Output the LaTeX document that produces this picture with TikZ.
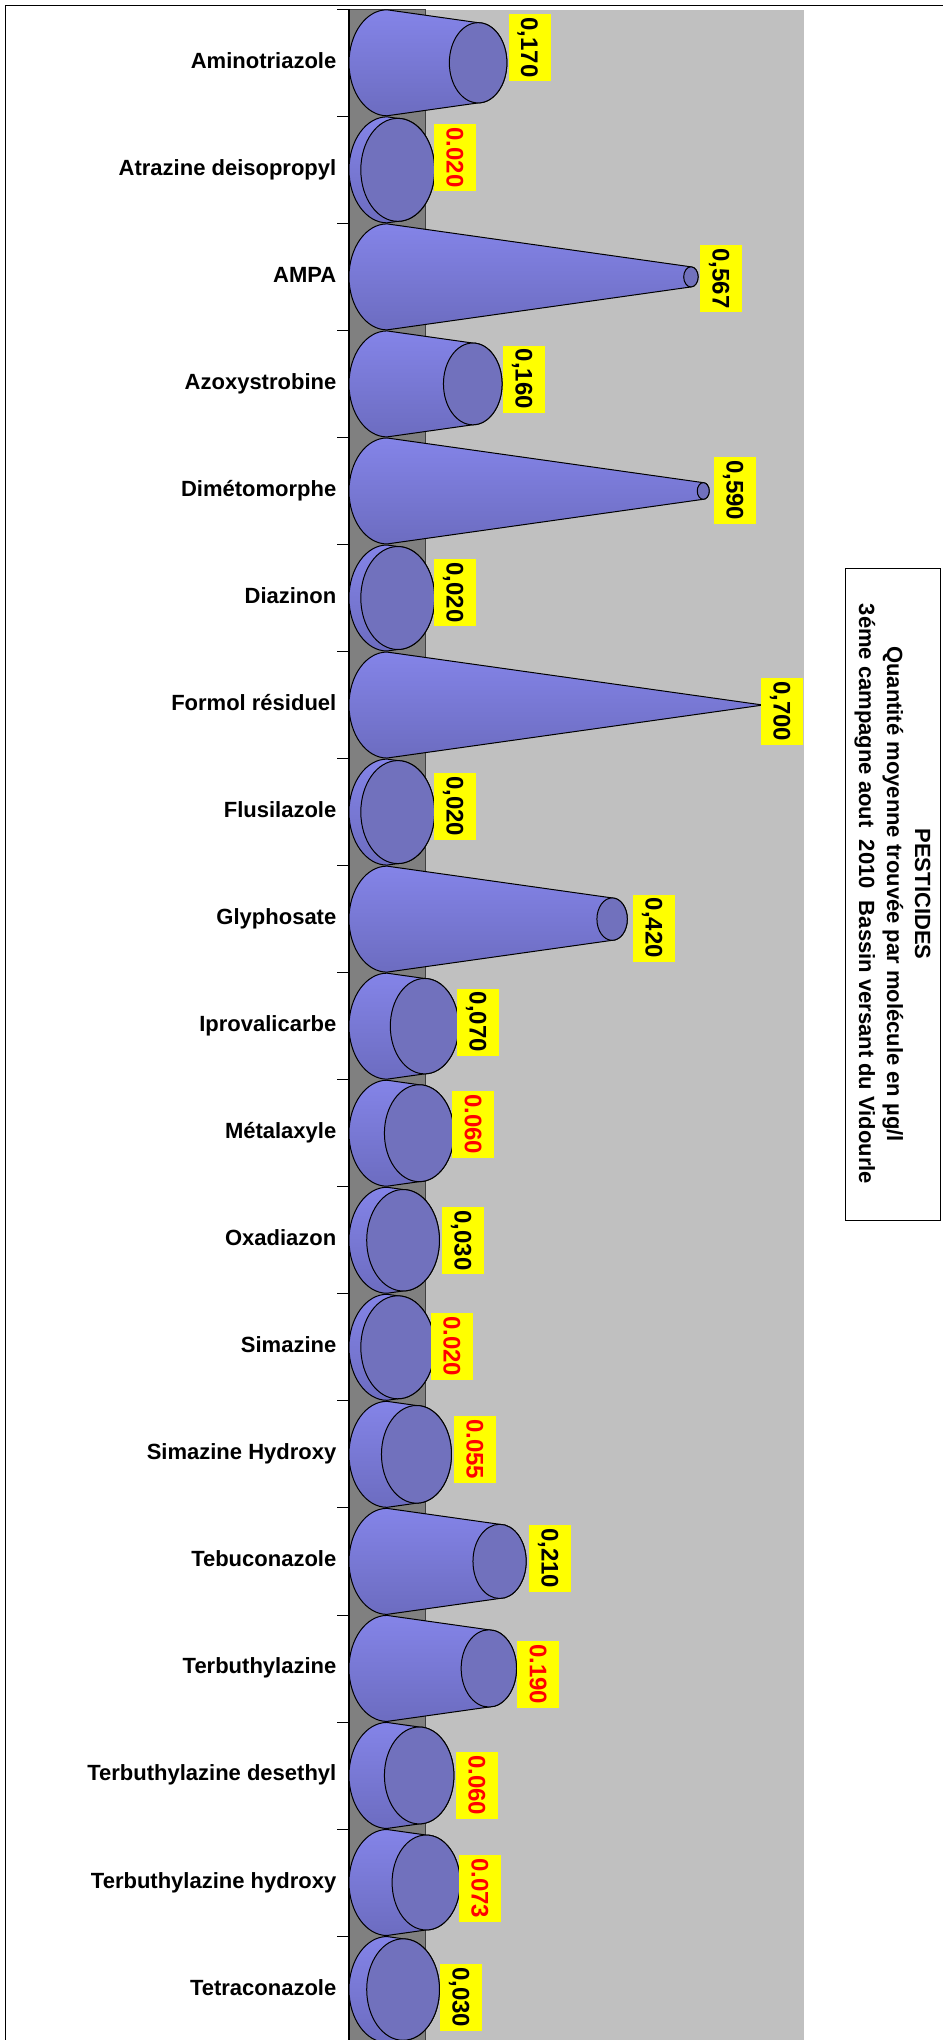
\documentclass[tikz,border=0pt]{standalone}
\usepackage{fontspec}
\setmainfont{Liberation Sans}
\usepackage{tikz}
\usetikzlibrary{positioning}
\usepackage{xcolor}
\definecolor{conelight}{RGB}{155,155,255}
\definecolor{conetop}{RGB}{132,132,232}
\definecolor{conedark}{RGB}{108,108,192}
\definecolor{capblue}{RGB}{113,113,189}
\definecolor{wallgray}{RGB}{192,192,192}
\definecolor{floorgray}{RGB}{128,128,128}
\definecolor{labyellow}{RGB}{255,255,0}

\begin{document}
\begin{tikzpicture}[x=1pt, y=-1pt,
    conebody/.style={draw=black, line width=1pt, top color=conetop, middle color=conelight, bottom color=conedark},
    capface/.style={draw=black, line width=1pt, fill=capblue},
    catlab/.style={anchor=base east, inner sep=0pt, font=\bfseries\fontsize{22}{24}\selectfont},
    vallab/.style={fill=labyellow, rotate=-90, inner sep=0pt, minimum width=67pt, minimum height=42pt,
      text height=17pt, text depth=0pt, font=\bfseries\fontsize{24}{24}\selectfont},
    titlebox/.style={draw=black, line width=0.8pt, rotate=-90, align=center, inner sep=0pt,
      minimum width=652pt, minimum height=95pt, font=\bfseries\fontsize{22}{28}\selectfont}]
  \useasboundingbox (0,0) rectangle (943,2040);
  \fill[white] (0,0) rectangle (943,2040);
  % Frame
  \draw[line width=1pt] (5.7,2040) -- (5.7,5.7) -- (943,5.7);
  % Back wall and floor
  \fill[wallgray] (425,10) rectangle (804,2040);
  \filldraw[fill=floorgray, draw=black!75, line width=0.6pt] (349,9.3) rectangle (425,2045);
  \draw[line width=1.3pt] (349,9.3) -- (349,2040);
  % Category ticks
  \foreach \i in {0,...,18}
    \draw[line width=0.8pt] (337,{9.3+107.04*\i}) -- (349,{9.3+107.04*\i});
  % Cones with value labels
  \foreach \i/\name/\val/\txt/\col/\lx/\ly in {
      0/Aminotriazole/0.170/{0,170}/black/529.5/47.5,
      1/Atrazine deisopropyl/0.020/{0.020}/red/455/157.5,
      2/AMPA/0.567/{0,567}/black/721/278.5,
      3/Azoxystrobine/0.160/{0,160}/black/524/379,
      4/Dimétomorphe/0.590/{0,590}/black/735/490.3,
      5/Diazinon/0.020/{0,020}/black/455/592.5,
      6/Formol résiduel/0.700/{0,700}/black/782/711.3,
      7/Flusilazole/0.020/{0,020}/black/455/806.3,
      8/Glyphosate/0.420/{0,420}/black/654/928,
      9/Iprovalicarbe/0.070/{0,070}/black/478/1022,
      10/Métalaxyle/0.060/{0.060}/red/473.3/1124.3,
      11/Oxadiazon/0.030/{0,030}/black/463/1240.5,
      12/Simazine/0.020/{0.020}/red/452/1346.3,
      13/Simazine Hydroxy/0.055/{0.055}/red/475/1449.3,
      14/Tebuconazole/0.210/{0,210}/black/550/1558.2,
      15/Terbuthylazine/0.190/{0.190}/red/538.3/1674.3,
      16/Terbuthylazine desethyl/0.060/{0.060}/red/477/1785.3,
      17/Terbuthylazine hydroxy/0.073/{0.073}/red/480/1888.3,
      18/Tetraconazole/0.030/{0,030}/black/461/1997.3} {
    \pgfmathsetmacro\yc{62.8+107.04*\i}
    \pgfmathsetmacro\k{max(1-\val/0.7,0.002)}
    \pgfmathsetmacro\xe{387+536*\val}
    \pgfmathsetmacro\rx{38*\k}
    \pgfmathsetmacro\ry{53*\k}
    \draw[conebody] (387,\yc-53)
      arc[start angle=-90, end angle=-270, x radius=38, y radius=53]
      -- (\xe,\yc+\ry)
      arc[start angle=90, end angle=-90, x radius=\rx, y radius=\ry] -- cycle;
    \draw[capface] (\xe,\yc) ellipse [x radius=\rx, y radius=\ry];
    \node[vallab, text=\col] (v\i) at (\lx,\ly) {\txt};
    \node[catlab] (c\i) at (336.5,\yc+5.5) {\name};
  }
  % Title
  \node[titlebox] (title) at (892.5,894) {PESTICIDES\\
    Quantité moyenne trouvée par molécule en µg/l\\
    3éme campagne aout\ \ 2010\ \ Bassin versant du Vidourle};
\end{tikzpicture}
\end{document}
